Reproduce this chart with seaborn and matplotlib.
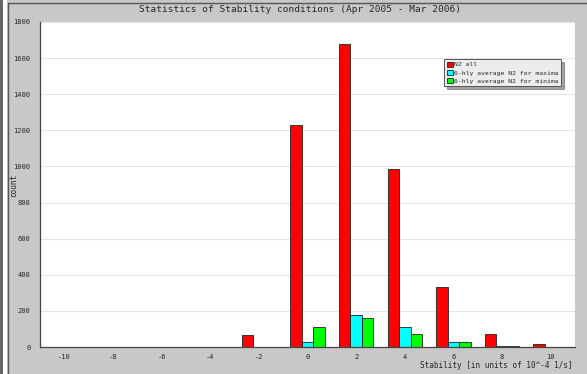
import numpy as np
import pandas as pd
import matplotlib
matplotlib.use('Agg')
import matplotlib.pyplot as plt
import seaborn as sns
from matplotlib.patches import Rectangle
from matplotlib.lines import Line2D
from matplotlib.ticker import MultipleLocator


# stability bins (units of 10^-4 1/s)
stability = [-10, -8, -6, -4, -2, 0, 2, 4, 6, 8, 10]

# counts per bin
n2_all = [0, 0, 0, 0, 65, 1230, 1680, 985, 335, 70, 15]
n2_maxima = [0, 0, 0, 0, 0, 26, 175, 111, 29, 8, 2]
n2_minima = [0, 0, 0, 0, 0, 109, 159, 74, 29, 8, 2]

series_names = ['N2 all',
                '6-hly average N2 for maxima',
                '6-hly average N2 for minima']
series_colors = ['#ff0000', '#00ffff', '#00ff00']

df = pd.DataFrame({
    'stability': [str(s) for s in stability] * 3,
    'count': n2_all + n2_maxima + n2_minima,
    'series': np.repeat(series_names, len(stability)),
})

BG = '#c8c8c8'
MONO = 'DejaVu Sans Mono'

sns.set_style('white')
plt.rcParams['font.family'] = [MONO]

fig = plt.figure(figsize=(5.87, 3.74), dpi=100, facecolor=BG)

# outer frame of the page (drawn first, under everything)
fig.patches.append(Rectangle((0, 0), 3 / 587, 1, transform=fig.transFigure,
                             facecolor='#666666', edgecolor='none', zorder=-5))
fig.patches.append(Rectangle((3 / 587, 0), 4 / 587, 1, transform=fig.transFigure,
                             facecolor='white', edgecolor='none', zorder=-5))
fig.lines.append(Line2D([7.5 / 587, 7.5 / 587], [0, 1 - 3 / 374],
                        transform=fig.transFigure, color='#555555',
                        linewidth=1, zorder=-4))
fig.lines.append(Line2D([7.5 / 587, 1], [1 - 3 / 374, 1 - 3 / 374],
                        transform=fig.transFigure, color='#555555',
                        linewidth=1, zorder=-4))

ax = fig.add_axes([40 / 587, 27 / 374, 535 / 587, 325 / 374])
ax.set_facecolor('white')

sns.barplot(data=df, x='stability', y='count', hue='series',
            order=[str(s) for s in stability], hue_order=series_names,
            palette=series_colors, width=0.71, saturation=1,
            edgecolor='#222222', linewidth=0.6, ax=ax)

ax.set_xlim(-0.5, len(stability) - 0.5)
ax.set_ylim(0, 1800)
ax.yaxis.set_major_locator(MultipleLocator(200))
ax.yaxis.set_minor_locator(MultipleLocator(100))
ax.grid(axis='y', color='#e4e4e4', linewidth=0.8)
ax.set_axisbelow(True)

# labels at bin centres, tick marks at bin edges
ax.set_xticks(range(len(stability)))
ax.set_xticklabels(stability)
ax.set_xticks(np.arange(-0.5, len(stability)), minor=True)
ax.tick_params(axis='x', which='major', length=0, labelsize=5, pad=5)
ax.tick_params(axis='x', which='minor', length=3, width=0.7,
               direction='inout', color='#444444')
ax.tick_params(axis='y', which='both', labelsize=5, direction='out',
               width=0.7, color='#444444', pad=3)
ax.tick_params(axis='y', which='major', length=4)
ax.tick_params(axis='y', which='minor', length=2)

for side in ['top', 'right']:
    ax.spines[side].set_visible(False)
for side in ['left', 'bottom']:
    ax.spines[side].set_color('#444444')
    ax.spines[side].set_linewidth(0.9)

ax.set_xlabel('')
ax.set_ylabel('')
fig.text(14 / 587, 1 - 185 / 374, 'count', rotation=90,
         ha='center', va='center', fontsize=5.5)
fig.text(573 / 587, 1 - 365 / 374, 'Stability [in units of 10^-4 1/s]',
         ha='right', va='center', fontsize=5.5)
fig.text(300 / 587, 1 - 10 / 374,
         'Statistics of Stability conditions (Apr 2005 - Mar 2006)',
         ha='center', va='center', fontsize=6.8)

ax.get_legend().remove()
handles = [Rectangle((0, 0), 1, 1, facecolor=c, edgecolor='#222222', linewidth=0.6)
           for c in series_colors]
leg = ax.legend(handles, series_names, loc='upper left',
                bbox_to_anchor=((444 - 40) / 535, 1 - (59 - 22) / 325),
                fontsize=4.6, frameon=True, fancybox=False, shadow=True,
                handlelength=1.0, handleheight=0.9, handletextpad=0.2,
                labelspacing=0.35, borderpad=0.4, borderaxespad=0)
leg.get_frame().set_facecolor('#ececec')
leg.get_frame().set_edgecolor('#555555')
leg.get_frame().set_linewidth(0.7)

fig.savefig('out.png', dpi=100, facecolor=BG)
